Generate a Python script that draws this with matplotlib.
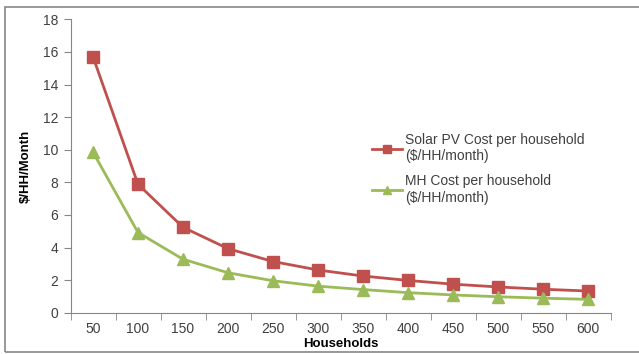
import matplotlib.pyplot as plt
from matplotlib.patches import Rectangle

households = [50, 100, 150, 200, 250, 300, 350, 400, 450, 500, 550, 600]
solar_cost = [15.7, 7.88, 5.24, 3.93, 3.14, 2.62, 2.25, 1.98, 1.75, 1.58, 1.44, 1.33]
mh_cost = [9.85, 4.92, 3.28, 2.45, 1.96, 1.63, 1.42, 1.23, 1.09, 0.98, 0.89, 0.82]
labels = [str(h) for h in households]

plt.rcParams['font.family'] = ['Liberation Sans', 'DejaVu Sans']
W, H = 639, 354
fig = plt.figure(figsize=(W / 100, H / 100), dpi=100)
ax = fig.add_axes([70.5 / W, 1 - 312.7 / H, (610.5 - 70.5) / W, (312.7 - 19.3) / H])

# outer chart border
fig.patches.append(Rectangle((5 / W, 1 - 352 / H), 1.0, (352 - 7) / H,
                             transform=fig.transFigure, fill=False,
                             edgecolor='#868686', linewidth=1.2))

x = list(range(len(households)))
ax.plot(x, solar_cost, color='#C0504D', linewidth=2, marker='s', markersize=8,
        label='Solar PV Cost per household\n($/HH/month)')
ax.plot(x, mh_cost, color='#9BBB59', linewidth=2, marker='^', markersize=8,
        label='MH Cost per household\n($/HH/month)')

ax.set_xlim(-0.5, len(households) - 0.5)
ax.set_ylim(0, 18)
ax.set_yticks(range(0, 19, 2))
ax.set_xticks(x)
ax.set_xticklabels(labels)
ax.set_xticks([i - 0.5 for i in range(len(households) + 1)], minor=True)
ax.tick_params(axis='x', which='major', length=0, pad=7)
ax.tick_params(axis='x', which='minor', length=5, color='#868686', direction='out')
ax.tick_params(axis='y', length=5, color='#868686', direction='out', pad=4)
ax.tick_params(labelsize=10, labelcolor='#404040')

for s in ['top', 'right']:
    ax.spines[s].set_visible(False)
for s in ['left', 'bottom']:
    ax.spines[s].set_color('#868686')

ax.set_xlabel('Households', fontsize=9.5, fontweight='bold', labelpad=1)
ax.set_ylabel('$/HH/Month', fontsize=9.5, fontweight='bold', labelpad=8)

ax.legend(loc='upper left', bbox_to_anchor=(0.535, 0.655), frameon=False,
          fontsize=10, handlelength=2.2, handletextpad=0.2, labelspacing=0.8,
          markerscale=0.75, labelcolor='#404040')

fig.savefig('out.png', dpi=100)
